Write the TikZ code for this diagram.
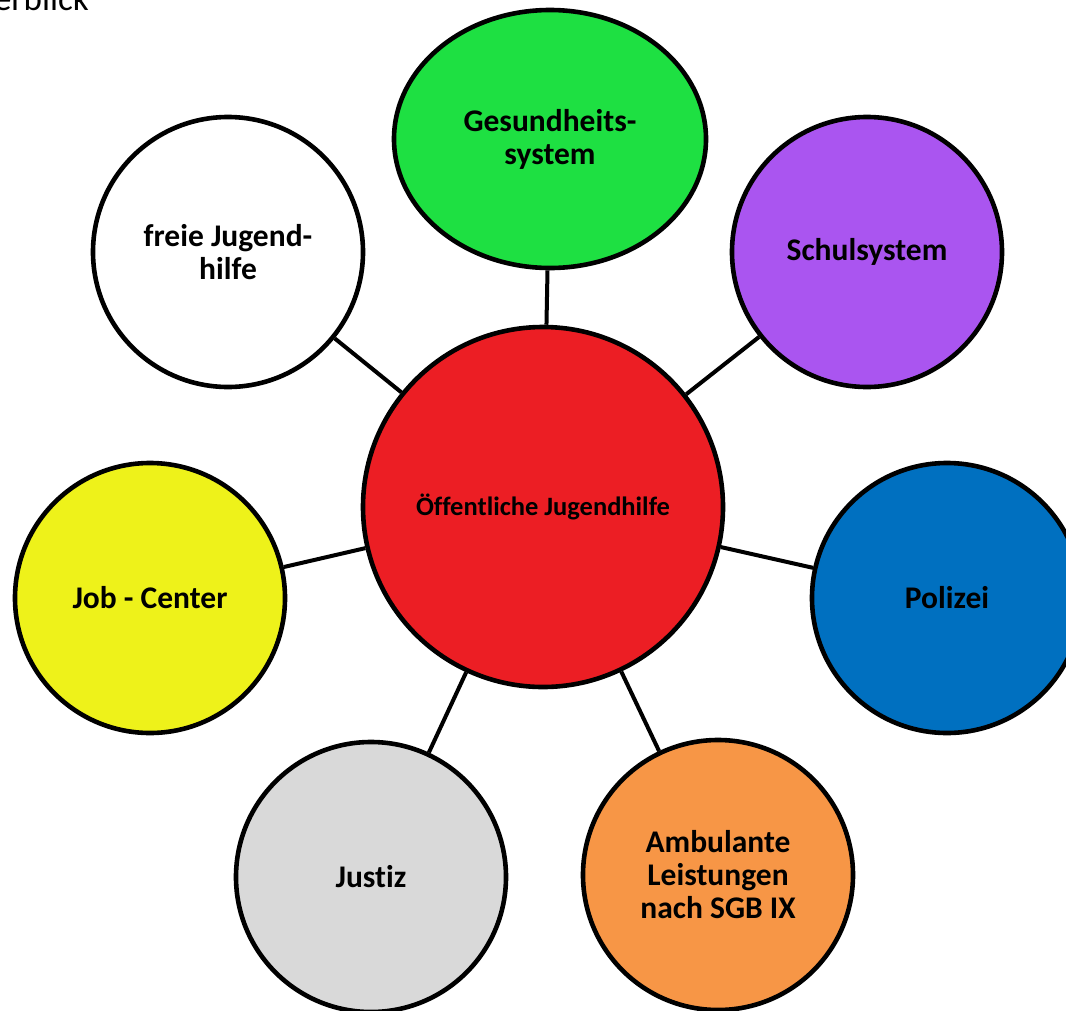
\documentclass[tikz,border=0pt]{standalone}
\usepackage{fontspec}
\setmainfont{Carlito}[Ligatures=NoCommon]
\usetikzlibrary{shapes.geometric}
\definecolor{Gruen}{HTML}{1EE042}
\definecolor{Lila}{HTML}{AA55F0}
\definecolor{Rot}{HTML}{EC1E24}
\definecolor{Gelb}{HTML}{EEF21A}
\definecolor{Blau}{HTML}{0070C0}
\definecolor{Grau}{HTML}{D9D9D9}
\definecolor{Orange}{HTML}{F79646}
\newcommand{\GROSS}[0]{\fontsize{31.5}{33}\selectfont\bfseries}
\newcommand{\MITTE}[0]{\fontsize{26.5}{28}\selectfont\bfseries}

\begin{document}
\begin{tikzpicture}[x=1pt, y=-1pt,
    partner/.style={circle, draw=black, line width=4.6pt, minimum size=270pt,
      inner sep=0pt, align=center, font=\GROSS},
    verbind/.style={line width=4pt}]

  \useasboundingbox (0, 0) rectangle (1066, 1010);

  %% Ueberschrift, oben abgeschnitten
  \node[anchor=base east, inner sep=0pt, font=\fontsize{35}{37}\selectfont] (titel)
    at (89, 10) {Überblick};

  %% Mitte
  \node[partner, fill=Rot, minimum size=360pt, font=\MITTE] (pub) at (543, 507)
    {Öffentliche Jugendhilfe};

  %% ringsum
  \node[partner, ellipse, fill=Gruen, minimum width=312pt, minimum height=258pt]
    (gesund) at (550, 139) {Gesundheits-\\system};
  \node[partner, fill=white] (freie) at (228, 252) {freie Jugend-\\hilfe};
  \node[partner, fill=Lila] (schule) at (867, 252) {Schulsystem};
  \node[partner, fill=Gelb] (job) at (150, 598) {Job - Center};
  \node[partner, fill=Blau] (polizei) at (947, 598) {Polizei};
  \node[partner, fill=Grau] (justiz) at (371, 877) {Justiz};
  \node[partner, fill=Orange] (amb) at (718, 875)
    {Ambulante\\Leistungen\\nach SGB IX};

  %% Verbindungen
  \draw[verbind] (pub) -- (gesund);
  \draw[verbind] (pub) -- (freie);
  \draw[verbind] (pub) -- (schule);
  \draw[verbind] (pub) -- (job);
  \draw[verbind] (pub) -- (polizei);
  \draw[verbind] (pub) -- (justiz);
  \draw[verbind] (pub) -- (amb);

\end{tikzpicture}
\end{document}
